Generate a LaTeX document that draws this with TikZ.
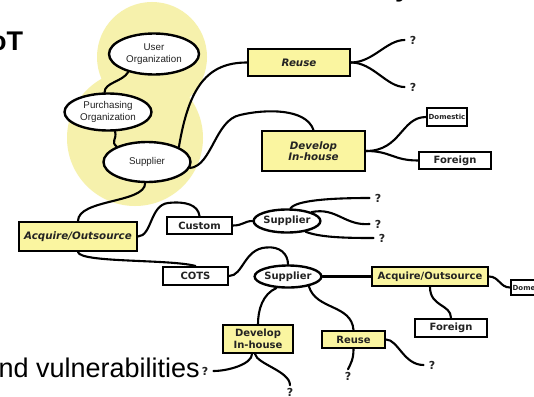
\documentclass[tikz,border=0pt]{standalone}
\usepackage{fontspec}
\setmainfont{DejaVu Sans}
\newfontfamily\arialish{Liberation Sans}
\usetikzlibrary{shapes.geometric}
\definecolor{blobyellow}{RGB}{246,241,172}
\definecolor{boxyellow}{RGB}{250,245,160}
\definecolor{ink}{RGB}{35,35,35}

\begin{document}
\begin{tikzpicture}[x=1pt,y=-1pt,
  conn/.style={line width=2.1pt, black, line cap=round},
  box/.style={draw=black, line width=2pt, inner sep=0pt, align=center, text=ink,
    font=\fontsize{10}{11}\selectfont\bfseries},
  ybox/.style={box, fill=boxyellow},
  wbox/.style={box, fill=white},
  bit/.style={font=\fontsize{10.3}{11}\selectfont\bfseries\itshape},
  tiny/.style={font=\fontsize{7}{8}\selectfont\bfseries},
  oval/.style={ellipse, draw=black, line width=2.4pt, fill=white, inner sep=0pt,
    align=center, text=ink, font=\arialish\fontsize{9.8}{12}\selectfont},
  boldoval/.style={oval, font=\fontsize{10}{11}\selectfont\bfseries},
  qm/.style={inner xsep=5pt, inner ysep=2.5pt, text=ink,
    font=\fontsize{11}{12}\selectfont\bfseries},
  bigtext/.style={anchor=base west, inner sep=0pt, text=black,
    font=\arialish\fontsize{27}{30}\selectfont},
]
\fill[white] (0,0) rectangle (534,396);
\useasboundingbox (0,0) rectangle (534,396);

% pale highlight behind the organisation chain
\fill[blobyellow] (152,57) circle[radius=55];
\fill[blobyellow] (135,138) circle[radius=68];

% headline fragments
\node[bigtext, font=\arialish\fontsize{27}{30}\selectfont\bfseries] (headA) at (-10,50) {oT};
\node[bigtext, font=\arialish\fontsize{27}{30}\selectfont\bfseries] (headB) at (395,-3) {y};
\node[bigtext] (vuln) at (-1.5,377) {nd vulnerabilities};

% organisation chain
\node[oval, minimum width=90pt, minimum height=41pt] (userOrg) at (154,54) {User\\Organization};
\node[oval, minimum width=87pt, minimum height=37pt] (purch) at (108,112) {Purchasing\\Organization};
\node[oval, minimum width=87pt, minimum height=40pt] (supTop) at (147,162) {Supplier};

% upper branches
\node[ybox, bit, minimum width=102pt, minimum height=27pt] (reuseT) at (299,62.5) {Reuse};
\node[ybox, bit, minimum width=103pt, minimum height=40pt] (devT) at (313.5,151) {Develop\\In-house};
\node[wbox, tiny, minimum width=40pt, minimum height=18pt] (domT) at (447,117) {Domestic};
\node[wbox, minimum width=72pt, minimum height=17pt] (forT) at (455,160.5) {Foreign};

% acquisition branches
\node[ybox, bit, minimum width=118pt, minimum height=29pt] (acqL) at (78,236.5) {Acquire/Outsource};
\node[wbox, minimum width=65pt, minimum height=17pt] (custom) at (199.5,225.5) {Custom};
\node[boldoval, minimum width=63pt, minimum height=23pt] (supU) at (287,221) {Supplier};
\node[wbox, minimum width=65pt, minimum height=18pt] (cots) at (195.5,276) {COTS};
\node[boldoval, minimum width=63pt, minimum height=22pt] (supL) at (288,276.5) {Supplier};
\node[ybox, minimum width=116pt, minimum height=19pt] (acqR) at (430,276.5) {Acquire/Outsource};
\node[wbox, tiny, minimum width=40pt, minimum height=15pt, anchor=west] (domR) at (510,287.5) {Domestic};
\node[wbox, minimum width=72pt, minimum height=18pt] (forR) at (451,328) {Foreign};
\node[ybox, minimum width=70pt, minimum height=28pt, font=\fontsize{10}{12}\selectfont\bfseries] (devL) at (258,339) {Develop\\In-house};
\node[ybox, minimum width=63pt, minimum height=17pt] (reuseL) at (353.5,339.5) {Reuse};

% open ends
\node[qm] (q1) at (413,40) {?};
\node[qm] (q2) at (413,87) {?};
\node[qm] (q3) at (378,198) {?};
\node[qm] (q4) at (378,224) {?};
\node[qm] (q5) at (382,238) {?};
\node[qm] (q6) at (348,376) {?};
\node[qm] (q7) at (432,365) {?};
\node[qm] (q8) at (290,392) {?};
\node[qm] (q9) at (205,371) {?};

% connectors
\draw[conn] (userOrg.215) .. controls +(-6,10) and +(0,-10) .. (purch.100);
\draw[conn] (purch.290) .. controls +(2,8) and +(-6,-5) .. (supTop.153);
\draw[conn] (supTop.25) .. controls +(10,-60) and +(-40,0) .. (reuseT.west);
\draw[conn] (supTop.-8) .. controls (212,166) and (215,120) .. (240,115)
            .. controls (265,109) and (306,108) .. (devT.north);
\draw[conn] (supTop.265) .. controls +(0,20) and +(0,-22) .. (acqL.north);

\draw[conn] (reuseT.east) .. controls +(22,0) and +(-18,0) .. (q1.west);
\draw[conn] (reuseT.east) .. controls +(22,0) and +(-18,0) .. (q2.west);
\draw[conn] (devT.east) .. controls +(35,0) and +(-25,0) .. (domT.west);
\draw[conn] (devT.east) .. controls +(25,0) and +(-25,0) .. (forT.west);

\draw[conn] (acqL.east) .. controls (152,236) and (150,205) .. (168,203)
            .. controls (186,201) and (198,205) .. (custom.north);
\draw[conn] (custom.east) .. controls +(10,0) and +(-8,0) .. (supU.west);
\draw[conn] (supU.75) .. controls +(6,-8) and +(-40,0) .. (q3.west);
\draw[conn] (supU.20) .. controls +(25,-5) and +(-25,2) .. (q4.west);
\draw[conn] (supU.-30) .. controls +(15,6) and +(-25,0) .. (q5.west);

\draw[conn] (acqL.south) .. controls +(2,11) and +(-25,-7) .. (cots.north);
\draw[conn] (cots.east) .. controls (243,276) and (244,249) .. (266,247.5)
            .. controls (280,246) and (288,254) .. (supL.north);
\draw[conn] (supL.east) -- (acqR.west);
\draw[conn] (acqR.east) .. controls +(10,0) and +(-10,0) .. (domR.west);
\draw[conn] (acqR.south) .. controls +(0,20) and +(0,-14) .. (forR.north);
\draw[conn] (supL.225) .. controls +(-14,6) and +(0,-14) .. (devL.north);
\draw[conn] (supL.-25) .. controls +(7,24) and +(-2,-26) .. (reuseL.north);

\draw[conn] (reuseL.south) .. controls +(0,10) and +(3,-6) .. (q6.north);
\draw[conn] (reuseL.east) .. controls +(12,0) and +(-20,0) .. (q7.west);
\draw[conn] ([xshift=-3pt]devL.south) .. controls +(2,10) and +(0,-14) .. (q8.north);
\draw[conn] ([xshift=-6pt]devL.south) .. controls +(0,10) and +(15,0) .. (q9.east);
\end{tikzpicture}
\end{document}
